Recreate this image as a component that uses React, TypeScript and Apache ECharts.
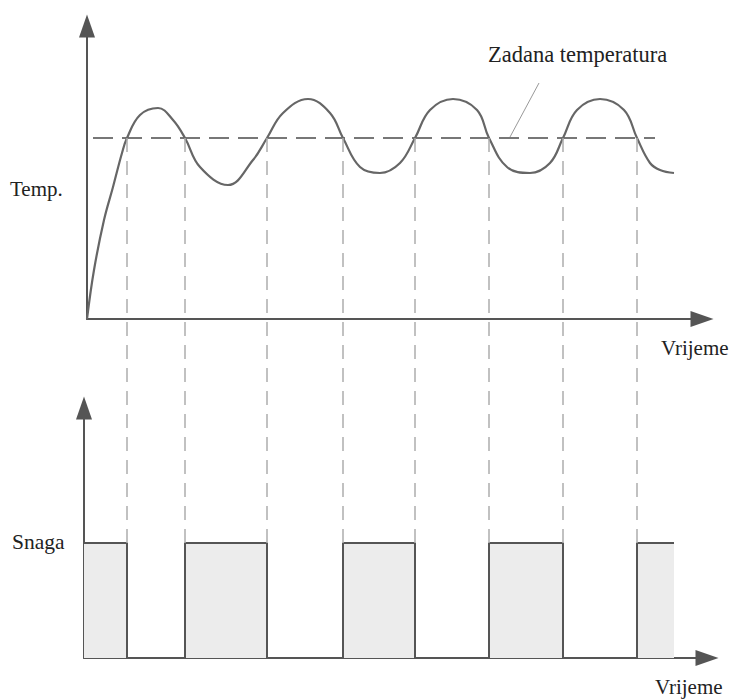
import React, { useEffect, useRef } from "react";
import * as echarts from "echarts";

// Time axis (arbitrary units), temperature (arbitrary units)
const temperatureCurve: [number, number][] = [
  [0, 0], [0.7, 4.9], [1.7, 9.9], [2.6, 13.2], [3.5, 16.6], [4.0, 18.1],
  [5.3, 20.4], [7.1, 21.1], [8.6, 19.9], [9.8, 18.1], [11.3, 15.2],
  [14.1, 13.4], [16.6, 15.9], [18.0, 18.1], [19.6, 20.6], [22.1, 22.0],
  [24.3, 20.6], [25.6, 18.1], [27.3, 15.2], [29.3, 14.6], [31.3, 15.6],
  [32.8, 18.1], [34.3, 20.9], [36.6, 22.0], [39.0, 20.9], [40.2, 18.1],
  [42.0, 15.2], [44.3, 14.6], [46.3, 15.6], [47.6, 18.1], [49.0, 20.9],
  [51.3, 22.0], [53.7, 20.9], [55.0, 18.1], [56.3, 15.6], [57.3, 14.9],
  [58.7, 14.6],
];
const setpointValue = 18.1;
const setpointSpan: [number, number] = [0.6, 56.8];
const crossingTimes = [4.0, 9.8, 18.0, 25.6, 32.8, 40.2, 47.6, 55.0];
const powerOnIntervals: [number, number][] = [
  [-0.3, 4.0], [9.8, 18.0], [25.6, 32.8], [40.2, 47.6], [55.0, 58.7],
];
const powerLevel = 11.5;
const tempAxisMax = 29.3;
const powerAxisMax = 25.0;
const timeMaxTop = 61.5;
const timeMinBottom = -0.3;
const timeMaxBottom = 62.0;
const labelTemp = "Temp.";
const labelPower = "Snaga";
const labelTime = "Vrijeme";
const labelSetpoint = "Zadana temperatura";

const AXIS_COLOR = "#555";
const FONT_FAMILY = "Liberation Serif";

function buildPulseData(): [number, number][] {
  const out: [number, number][] = [];
  powerOnIntervals.forEach(([a, b], i) => {
    if (i > 0) out.push([a, 0]);
    out.push([a, powerLevel]);
    out.push([b, powerLevel]);
    if (i < powerOnIntervals.length - 1) out.push([b, 0]);
  });
  return out;
}

function axisLine(withArrow: boolean) {
  return {
    show: true,
    onZero: false,
    symbol: withArrow ? ["none", "triangle"] : ["none", "none"],
    symbolSize: [16, 23],
    lineStyle: { color: AXIS_COLOR, width: 2 },
  };
}

const hidden = {
  axisTick: { show: false },
  axisLabel: { show: false },
  splitLine: { show: false },
};

export default function App() {
  const ref = useRef<HTMLDivElement>(null);
  useEffect(() => {
    if (!ref.current) return;
    const chart = echarts.init(ref.current, undefined, { renderer: "svg" });
    const titleEl = (t: string, left: number, top: number, size = 21) => ({
      text: t,
      left,
      top,
      padding: 0,
      textStyle: {
        fontFamily: FONT_FAMILY,
        fontSize: size,
        fontWeight: "normal",
        color: "#222",
      },
    });
    chart.setOption({
      animation: false,
      backgroundColor: "#fff",
      title: [
        titleEl(labelTemp, 10, 178),
        titleEl(labelPower, 12, 531, 21.5),
        titleEl(labelTime, 661, 337),
        titleEl(labelTime, 655, 676),
        titleEl(labelSetpoint, 488, 43, 22.5),
      ],
      grid: [
        { left: 87, top: 26, width: 615, height: 293 },
        { left: 84, top: 408, width: 623, height: 250 },
        { left: 87, top: 138, width: 615, height: 405 },
      ],
      xAxis: [
        { type: "value", gridIndex: 0, min: 0, max: timeMaxTop, axisLine: axisLine(true), ...hidden },
        { type: "value", gridIndex: 1, min: timeMinBottom, max: timeMaxBottom, axisLine: axisLine(true), ...hidden },
        { type: "value", gridIndex: 2, min: 0, max: timeMaxTop, show: false },
      ],
      yAxis: [
        { type: "value", gridIndex: 0, min: 0, max: tempAxisMax, axisLine: axisLine(true), ...hidden },
        { type: "value", gridIndex: 1, min: 0, max: powerAxisMax, axisLine: axisLine(true), ...hidden },
        { type: "value", gridIndex: 2, min: 0, max: 1, show: false },
      ],
      series: [
        {
          type: "line",
          xAxisIndex: 2,
          yAxisIndex: 2,
          data: [[0, 0]],
          showSymbol: false,
          silent: true,
          lineStyle: { opacity: 0 },
          markLine: {
            silent: true,
            symbol: ["none", "none"],
            label: { show: false },
            lineStyle: { type: [14, 9], color: "#adadad", width: 1.5 },
            data: crossingTimes.map((x) => ({ xAxis: x })),
          },
          z: 1,
        },
        {
          type: "line",
          xAxisIndex: 0,
          yAxisIndex: 0,
          data: [
            [setpointSpan[0], setpointValue],
            [setpointSpan[1], setpointValue],
          ],
          showSymbol: false,
          silent: true,
          lineStyle: { type: [20, 9], color: "#777", width: 2 },
          z: 2,
        },
        {
          type: "line",
          xAxisIndex: 0,
          yAxisIndex: 0,
          data: temperatureCurve,
          smooth: 0.4,
          showSymbol: false,
          silent: true,
          lineStyle: { color: "#666", width: 2.2 },
          z: 3,
        },
        {
          type: "line",
          xAxisIndex: 1,
          yAxisIndex: 1,
          data: buildPulseData(),
          showSymbol: false,
          silent: true,
          lineStyle: { color: AXIS_COLOR, width: 2 },
          areaStyle: { color: "#ececec", opacity: 1 },
          z: 3,
        },
      ],
      graphic: [
        {
          type: "line",
          silent: true,
          shape: { x1: 539, y1: 83, x2: 510, y2: 137 },
          style: { stroke: "#999", lineWidth: 1 },
        },
      ],
    });
    return () => chart.dispose();
  }, []);
  return (
    <div
      ref={ref}
      style={{ position: "fixed", left: 0, top: 0, width: 734, height: 700 }}
    />
  );
}
